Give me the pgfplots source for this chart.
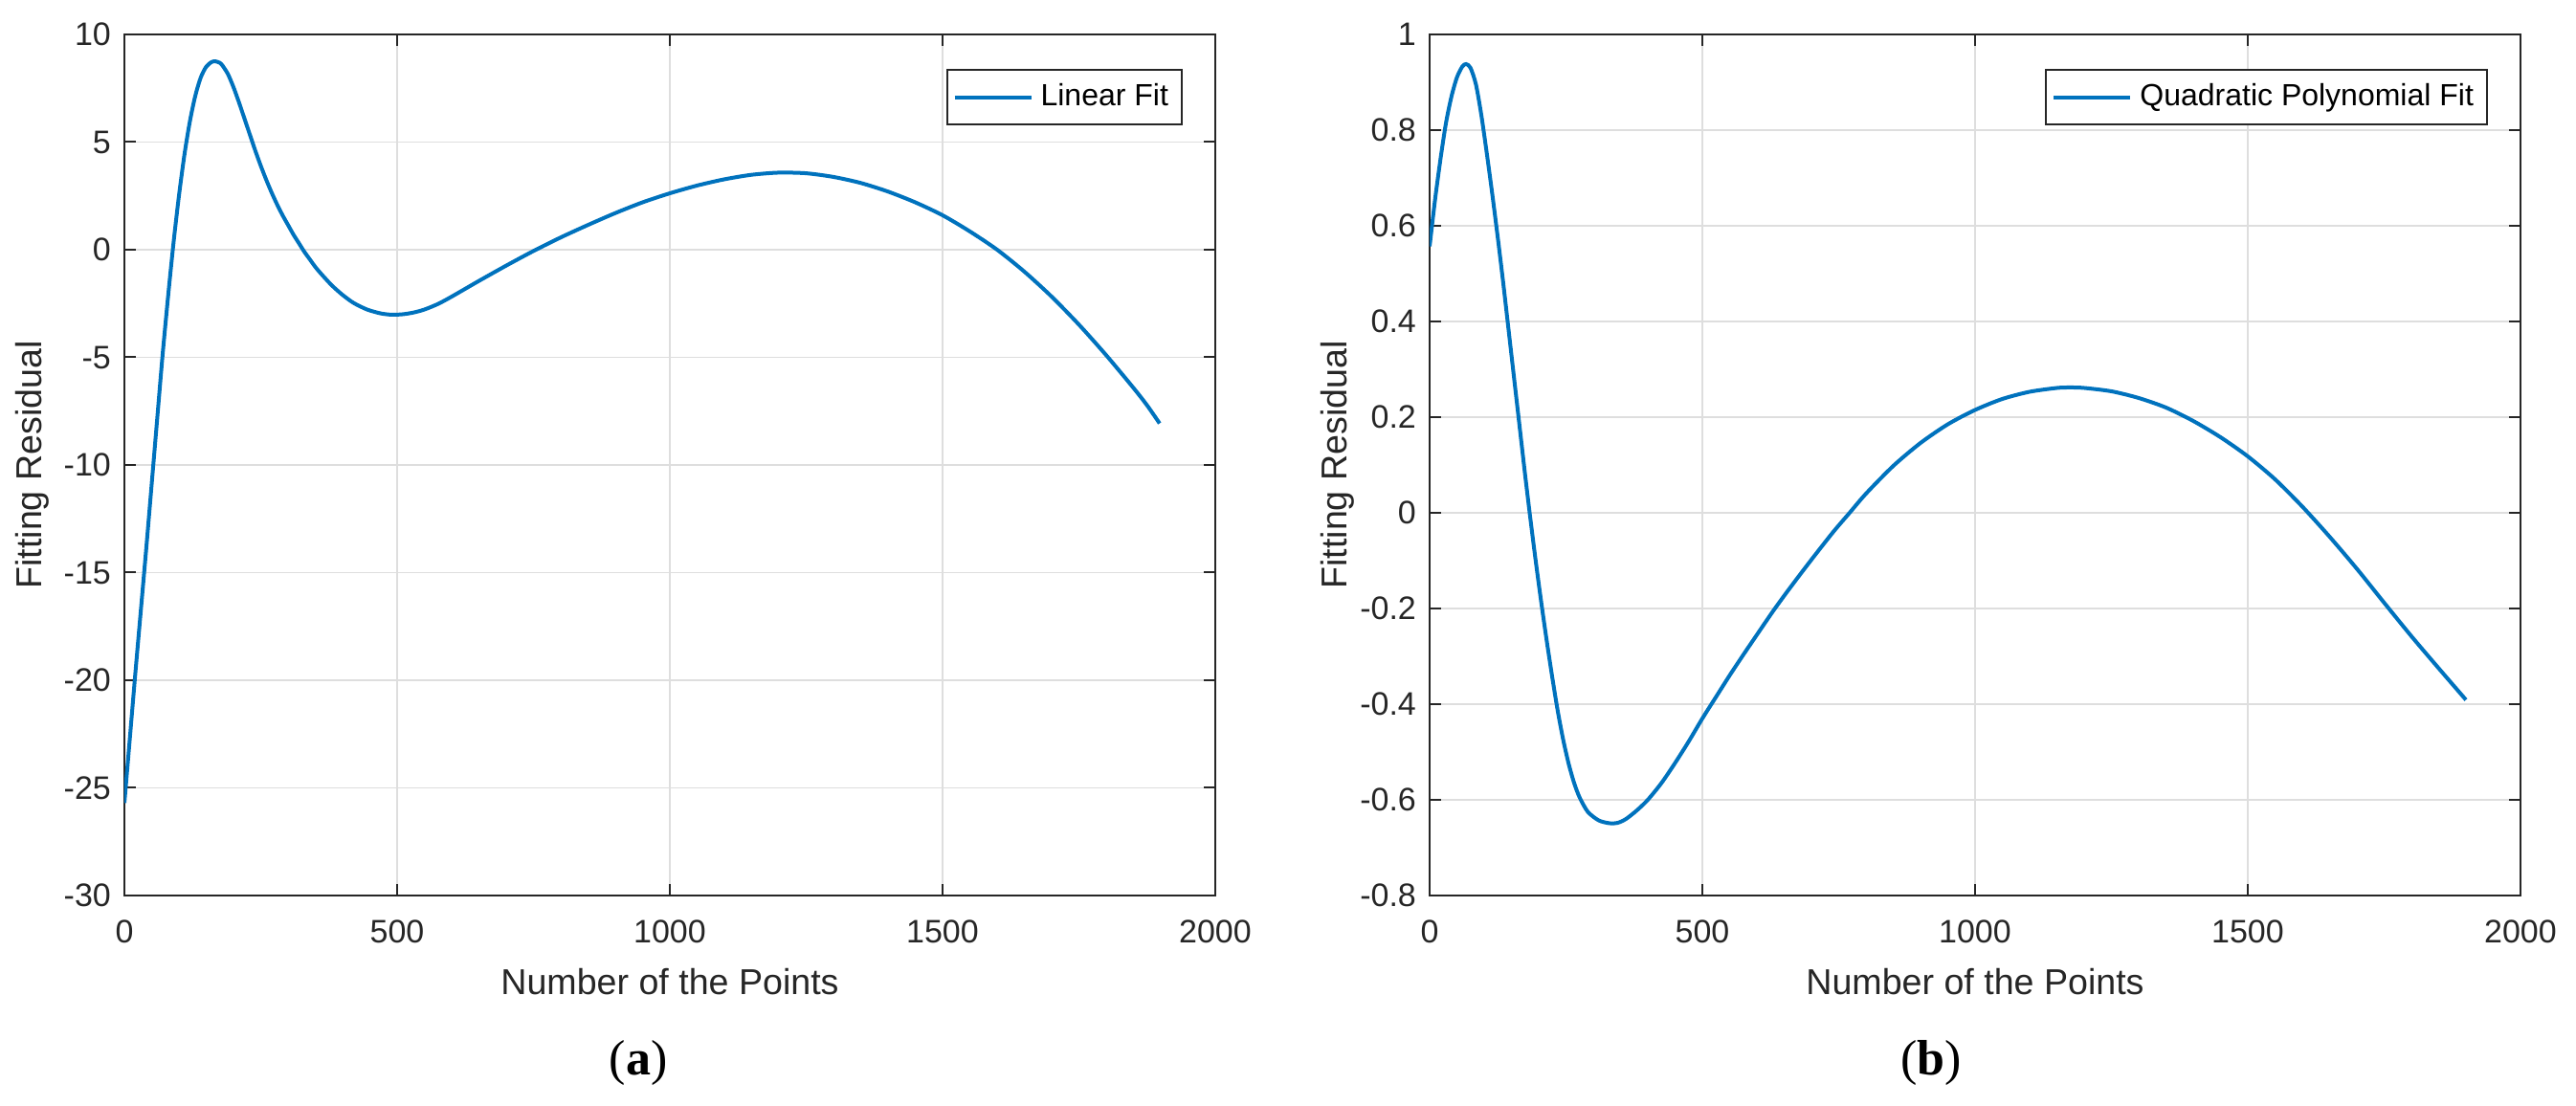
\documentclass[border=0pt]{standalone}
\usepackage{fontspec}
\setmainfont{Liberation Sans}
\newfontfamily\capfont{Liberation Serif}
\usepackage{pgfplots}
\pgfplotsset{compat=1.18}
\definecolor{mblue}{rgb}{0,0.447,0.741}
\definecolor{axcol}{rgb}{0.15,0.15,0.15}
\pgfplotsset{
  myax/.style={
    scale only axis, width=285pt, height=225pt,
    xmin=0, xmax=2000, xtick={0,500,1000,1500,2000},
    grid=major, major grid style={color=black!13, line width=0.4pt},
    axis line style={color=axcol, line width=0.5pt},
    tick style={color=axcol, line width=0.5pt},
    tick align=inside, major tick length=3pt,
    ticklabel style={font=\fontsize{8.5}{10}\selectfont, text=axcol},
    xticklabel style={yshift=-3pt},
    /pgf/number format/assume math mode=true,
    /pgf/number format/1000 sep={},
    scaled ticks=false,
    xlabel={Number of the Points}, ylabel={Fitting Residual},
    every axis y label/.style={at={(rel axis cs:0,0.5)}, xshift=-24pt, rotate=90, anchor=center, font=\fontsize{9.4}{11}\selectfont, text=axcol},
    every axis x label/.style={at={(rel axis cs:0.5,0)}, yshift=-22.5pt, anchor=center, font=\fontsize{9.4}{11}\selectfont, text=axcol},
    legend style={at={(rel axis cs:1,1)}, xshift=-8.5pt, yshift=-9pt, anchor=north east, draw=axcol, line width=0.5pt, font=\fontsize{8}{9.6}\selectfont, inner xsep=1.5pt, inner ysep=1.5pt},
    legend image code/.code={\draw[#1] (0pt,0pt) -- (20pt,0pt);},
  }
}
\begin{document}
\begin{tikzpicture}
\path[use as bounding box] (0,0) rectangle (673pt,289pt);
\begin{axis}[myax, at={(32.5pt,55pt)}, anchor=south west,
  ymin=-30, ymax=10, ytick={-30,-25,-20,-15,-10,-5,0,5,10}]
\addplot[mblue, line width=1pt, smooth, tension=0.45] coordinates {
(0,-25.7) (10,-22.7) (20,-19.7) (30,-16.8) (40,-13.9) (50,-10.9) (60,-7.9) (70,-4.9) (80,-2.2) (90,0.3)
(100,2.5) (110,4.4) (120,5.95) (130,7.15) (140,8.0) (150,8.5) (160,8.72) (167,8.75) (175,8.68) (180,8.55)
(190,8.15) (200,7.55) (210,6.85) (220,6.1) (230,5.35) (240,4.6) (250,3.9) (260,3.25) (270,2.65) (280,2.1)
(290,1.6) (300,1.15) (310,0.7) (320,0.3) (330,-0.1) (340,-0.45) (350,-0.8) (360,-1.1) (380,-1.65)
(400,-2.1) (420,-2.47) (445,-2.78) (470,-2.96) (490,-3.02) (510,-3.0) (530,-2.92) (550,-2.78)
(575,-2.52) (600,-2.18) (650,-1.45) (700,-0.74) (750,-0.06) (800,0.57) (850,1.15) (900,1.7) (950,2.2)
(1000,2.62) (1050,2.98) (1100,3.27) (1150,3.48) (1200,3.58) (1250,3.55) (1300,3.38) (1350,3.1)
(1400,2.7) (1450,2.2) (1500,1.6) (1550,0.85) (1600,0.0) (1650,-1.02) (1700,-2.18) (1750,-3.48)
(1800,-4.9) (1850,-6.42) (1875,-7.23) (1898,-8.07)
};
\addlegendentry{Linear Fit}
\end{axis}
\begin{axis}[myax, at={(373.5pt,55pt)}, anchor=south west,
  ymin=-0.8, ymax=1, ytick={-0.8,-0.6,-0.4,-0.2,0,0.2,0.4,0.6,0.8,1}]
\addplot[mblue, line width=1pt, smooth, tension=0.45] coordinates {
(0,0.557) (10,0.655) (20,0.74) (30,0.815) (40,0.87) (50,0.91) (60,0.933) (67,0.938) (75,0.93) (85,0.895)
(95,0.83) (105,0.75) (115,0.665) (125,0.575) (135,0.48) (145,0.38) (155,0.28) (165,0.18) (175,0.08)
(185,-0.015) (195,-0.105) (205,-0.19) (215,-0.27) (225,-0.345) (235,-0.415) (245,-0.475) (255,-0.525)
(265,-0.565) (275,-0.595) (290,-0.625) (310,-0.643) (330,-0.649) (345,-0.648) (360,-0.64) (380,-0.622)
(400,-0.6) (425,-0.565) (450,-0.523) (475,-0.478) (500,-0.43) (525,-0.385) (550,-0.34) (575,-0.297)
(600,-0.255) (630,-0.205) (660,-0.158) (700,-0.098) (740,-0.04) (770,0.0) (800,0.04) (850,0.098)
(900,0.146) (950,0.185) (1000,0.215) (1050,0.238) (1100,0.253) (1150,0.261) (1175,0.262) (1200,0.261)
(1250,0.254) (1300,0.24) (1350,0.22) (1400,0.192) (1450,0.158) (1500,0.118) (1550,0.07) (1600,0.013)
(1650,-0.05) (1700,-0.117) (1750,-0.188) (1800,-0.258) (1850,-0.325) (1900,-0.391)
};
\addlegendentry{Quadratic Polynomial Fit}
\end{axis}
\node[font=\capfont\fontsize{13}{15}\selectfont] at (166.75pt,11.25pt) {(\textbf{a})};
\node[font=\capfont\fontsize{13}{15}\selectfont] at (504.5pt,11.25pt) {(\textbf{b})};
\end{tikzpicture}
\end{document}
